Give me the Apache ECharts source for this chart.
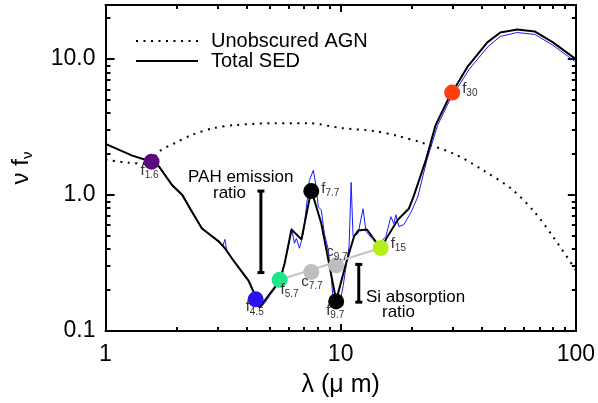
<!DOCTYPE html>
<html><head><meta charset="utf-8">
<script src="https://cdn.jsdelivr.net/npm/echarts@6/dist/echarts.min.js"></script>
<style>html,body{margin:0;padding:0;background:#fff}#c{width:598px;height:403px}</style>
</head><body><div id="c"></div>
<script>
// ---- data ----
const xMin = 1, xMax = 100, yMin = 0.1, yMax = 25;
const xTickValues = [1, 10, 100];
const xTickLabels = ['1', '10', '100'];
const yTickValues = [0.1, 1, 10];
const yTickLabels = ['0.1', '1.0', '10.0'];

// Unobscured AGN (dotted)
const agnX = [1.00,1.24,1.50,1.71,1.98,2.33,2.89,3.55,5.23,7.29,10.05,13.86,17.5,22.3,30.2,40.4,53.6,67.1,81.5,100];
const agnY = [1.82,1.73,1.71,2.12,2.42,2.77,3.11,3.27,3.38,3.38,3.11,2.96,2.72,2.42,2.02,1.52,1.10,0.741,0.472,0.281];

// Total SED (black)
const sedX = [1.00,1.30,1.57,1.69,1.92,2.12,2.33,2.57,3.03,3.22,3.44,4.06,4.39,4.52,5.50,5.77,6.18,6.81,7.50,8.27,9.57,10.55,11.40,11.86,12.94,14.27,14.98,15.73,17.50,19.48,20.45,22.99,25.34,28.76,34.60,42.04,47.72,56.30,67.09,79.91,100];
const sedY = [2.38,1.95,1.76,1.62,1.18,1.00,0.753,0.567,0.456,0.406,0.344,0.234,0.173,0.149,0.234,0.311,0.558,0.472,1.09,0.62,0.168,0.316,0.496,0.548,0.558,0.442,0.413,0.488,0.659,0.792,0.983,1.79,3.27,5.13,8.75,13.28,15.69,16.50,15.95,13.28,10.0];

// Spectrum (blue)
const specX = [1.00,1.30,1.57,1.69,1.92,2.12,2.33,2.57,3.03,3.15,3.22,3.28,3.44,4.06,4.39,4.52,4.75,4.99,5.28,5.60,5.77,6.00,6.18,6.36,6.48,6.68,6.94,7.15,7.36,7.65,7.88,8.03,8.27,8.52,8.85,9.12,9.30,9.48,9.86,10.25,10.55,10.86,11.08,11.29,11.86,12.45,12.82,13.72,14.41,15.57,16.35,16.83,17.17,17.68,18.56,19.87,21.27,23.22,25.84,29.33,35.29,42.46,47.72,56.30,67.09,79.91,100];
const specY = [2.38,1.95,1.76,1.62,1.20,1.02,0.766,0.577,0.449,0.420,0.472,0.386,0.344,0.238,0.173,0.147,0.160,0.182,0.208,0.242,0.316,0.420,0.567,0.442,0.480,0.406,0.522,0.818,1.28,1.52,1.14,0.818,0.779,0.522,0.400,0.254,0.162,0.152,0.152,0.215,0.301,0.420,1.24,0.496,0.522,0.792,0.539,0.472,0.427,0.496,0.693,0.617,0.716,0.586,0.606,0.741,0.967,1.79,3.27,5.13,8.46,12.43,14.68,15.69,15.18,12.63,9.51];

// Photometric points
const ptLetter = ['f','f','f','f','f','c','c','f','f'];
const ptSub    = ['1.6','4.5','5.7','7.7','9.7','7.7','9.7','15','30'];
const ptX = [1.57, 4.35, 5.50, 7.50, 9.57, 7.50, 9.57, 14.8, 29.8];
const ptY = [1.76, 0.171, 0.238, 1.07, 0.165, 0.272, 0.304, 0.408, 5.67];

// Ratio bars (PAH, Si)
const barX = [4.58, 11.94];
const barLow = [0.269, 0.163];
const barHigh = [1.07, 0.309];

// ---- styles / layout ----
const ptColors = ['#5a0a7a','#2a12ee','#1ee68a','#000000','#000000','#bebebe','#bebebe','#b2f01c','#ff3e0e'];
const ptLabelOffset = [[-11,9],[-10,8],[1,10],[10,-2],[-10,9],[-10,10],[-10,-13],[10,-4],[10,-4]];
const FONT = 'Liberation Sans, Arial, Helvetica, sans-serif';

const chart = echarts.init(document.getElementById('c'), null, {renderer:'canvas'});

function labelFor(list, labels) {
  return function (v) {
    for (let i = 0; i < list.length; i++) if (Math.abs(Math.log10(list[i]) - Math.log10(v)) < 1e-6) return labels[i];
    return '';
  };
}

function logAxis(dim, pos, majorLen, minorLen, main) {
  const ax = {
    type: 'log', logBase: 10, position: pos,
    min: dim === 'x' ? xMin : yMin, max: dim === 'x' ? xMax : yMax,
    axisLine: {show: true, onZero: false, lineStyle: {color: '#000', width: 2}},
    axisTick: {show: true, inside: true, length: majorLen, lineStyle: {color: '#000', width: 2}},
    minorTick: {show: true, splitNumber: 9, length: minorLen, lineStyle: {color: '#000', width: 2}},
    axisLabel: {show: false},
    splitLine: {show: false}, minorSplitLine: {show: false}
  };
  if (main) {
    ax.axisLabel = {show: true, fontSize: 23, color: '#000', fontFamily: FONT,
      margin: dim === 'x' ? 12 : 10,
      formatter: dim === 'x' ? labelFor(xTickValues, xTickLabels) : labelFor(yTickValues, yTickLabels)};
  }
  return ax;
}

const xMain = logAxis('x', 'bottom', 7, 4, true);
xMain.name = '\u03bb (\u03bc m)';
xMain.nameLocation = 'middle';
xMain.nameGap = 42;
xMain.nameTextStyle = {fontSize: 25, color: '#000', fontFamily: FONT};

const yMain = logAxis('y', 'left', 9, 5, true);
yMain.name = '{n|\u03bd f}{s|\u03bd}';
yMain.nameLocation = 'middle';
yMain.nameGap = 72;
yMain.nameRotate = 90;
yMain.nameTextStyle = {
  color: '#000',
  rich: {
    n: {fontSize: 24, fontFamily: FONT, color: '#000', lineHeight: 24},
    s: {fontSize: 15, fontFamily: FONT, color: '#000', lineHeight: 15, padding: [12, 0, 0, 0]}
  }
};

const pts = ptX.map((x, i) => ({
  value: [x, ptY[i]],
  itemStyle: {color: ptColors[i], opacity: 1},
  label: {
    show: true, position: 'inside', align: 'left', verticalAlign: 'middle',
    offset: ptLabelOffset[i],
    formatter: '{a|' + ptLetter[i] + '}{b|' + ptSub[i] + '}',
    rich: {
      a: {fontSize: 15, color: '#333', fontFamily: FONT, lineHeight: 15},
      b: {fontSize: 10, color: '#333', fontFamily: FONT, lineHeight: 10, padding: [9, 0, 0, 0]}
    }
  }
}));

const option = {
  animation: false,
  backgroundColor: '#fff',
  grid: {left: 103, right: 22, top: 5, bottom: 67, containLabel: false},
  legend: {
    show: true, orient: 'vertical', left: 135, top: 31,
    itemWidth: 62, itemHeight: 14, itemGap: 0, padding: 0,
    data: ['Unobscured AGN', 'Total SED'],
    itemStyle: {color: 'rgba(0,0,0,0)', borderWidth: 0, opacity: 0},
    textStyle: {fontSize: 20, color: '#000', fontFamily: FONT, padding: [0, 0, 0, 8]}
  },
  xAxis: [xMain, logAxis('x', 'top', 7, 4, false)],
  yAxis: [yMain, logAxis('y', 'right', 8, 4, false)],
  graphic: [
    {type: 'text', left: 188, top: 169, style: {text: 'PAH emission', fontSize: 17, fill: '#000', fontFamily: FONT}},
    {type: 'text', left: 213, top: 185, style: {text: 'ratio', fontSize: 17, fill: '#000', fontFamily: FONT}},
    {type: 'text', left: 366, top: 289, style: {text: 'Si absorption', fontSize: 17, fill: '#000', fontFamily: FONT}},
    {type: 'text', left: 382, top: 304, style: {text: 'ratio', fontSize: 17, fill: '#000', fontFamily: FONT}}
  ],
  series: [
    {
      name: 'Unobscured AGN', type: 'line', xAxisIndex: 0, yAxisIndex: 0,
      data: agnX.map((x, i) => [x, agnY[i]]), symbol: 'none', smooth: 0.3,
      itemStyle: {color: '#000'},
      lineStyle: {color: '#000', width: 2, type: [2, 5.5], cap: 'butt'}, z: 2
    },
    {
      name: 'spectrum', type: 'line', xAxisIndex: 0, yAxisIndex: 0,
      data: specX.map((x, i) => [x, specY[i]]), symbol: 'none',
      lineStyle: {color: '#1a1aff', width: 1}, z: 3
    },
    {
      name: 'Total SED', type: 'line', xAxisIndex: 0, yAxisIndex: 0,
      data: sedX.map((x, i) => [x, sedY[i]]), symbol: 'none',
      itemStyle: {color: '#000'},
      lineStyle: {color: '#000', width: 2}, z: 4
    },
    {
      name: 'continuum', type: 'line', xAxisIndex: 0, yAxisIndex: 0,
      data: [[ptX[2], ptY[2]], [ptX[7], ptY[7]]], symbol: 'none',
      lineStyle: {color: '#c4c4c4', width: 2}, z: 5
    },
    {
      name: 'pahbar', type: 'line', xAxisIndex: 0, yAxisIndex: 0,
      data: [[barX[0], barLow[0]], [barX[0], barHigh[0]]], symbol: 'rect', symbolSize: [7, 3],
      itemStyle: {color: '#000'}, lineStyle: {color: '#000', width: 3}, z: 5
    },
    {
      name: 'sibar', type: 'line', xAxisIndex: 0, yAxisIndex: 0,
      data: [[barX[1], barLow[1]], [barX[1], barHigh[1]]], symbol: 'rect', symbolSize: [7, 3],
      itemStyle: {color: '#000'}, lineStyle: {color: '#000', width: 3}, z: 5
    },
    {
      name: 'points', type: 'scatter', xAxisIndex: 0, yAxisIndex: 0,
      data: pts, symbol: 'circle', symbolSize: 16, z: 6
    }
  ]
};
chart.setOption(option);
</script></body></html>
